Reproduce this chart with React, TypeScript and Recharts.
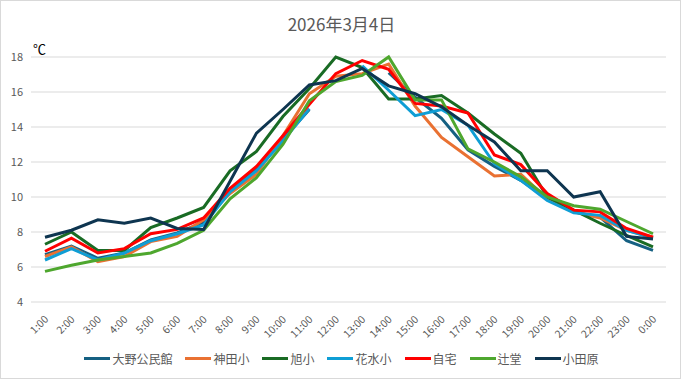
import React from "react";
import { LineChart, Line, XAxis, YAxis, CartesianGrid } from "recharts";

const hours = [
  "1:00", "2:00", "3:00", "4:00", "5:00", "6:00", "7:00", "8:00", "9:00", "10:00", "11:00", "12:00",
  "13:00", "14:00", "15:00", "16:00", "17:00", "18:00", "19:00", "20:00", "21:00", "22:00", "23:00", "0:00",
];

const ono = [6.7, 7.2, 6.5, 6.8, 7.55, 7.95, 8.55, 10.3, 11.6, 13.3, 15.0, null, null, 17.1, 15.7, 14.5, 12.7, 11.75, 10.95, 9.9, 9.15, 8.85, 7.5, 6.95];
const kanda = [6.6, 7.15, 6.3, 6.6, 7.45, 7.75, 8.7, 10.2, 11.3, 13.5, 15.9, 16.9, 17.05, 17.6, 15.2, 13.4, 12.3, 11.2, 11.3, 9.9, 9.15, 8.8, 8.1, 7.7];
const asahi = [7.3, 8.0, 6.95, 6.95, 8.25, 8.8, 9.4, 11.5, 12.6, 14.6, 16.2, 18.0, 17.4, 15.6, 15.6, 15.8, 14.8, 13.6, 12.5, 10.0, 9.25, 8.5, 7.8, 7.15];
const hanamizu = [6.4, 7.05, 6.4, 6.8, 7.5, 7.9, 8.4, 10.3, 11.5, 13.2, 15.05, null, 17.5, 16.1, 14.65, 15.0, 14.1, 11.9, 10.95, 9.8, 9.1, 8.95, 8.1, 7.65];
const jitaku = [6.9, 7.65, 6.8, 7.05, 7.9, 8.15, 8.8, 10.5, 11.75, 13.5, 15.3, 17.05, 17.8, 17.3, 15.35, 15.2, 14.8, 12.4, 11.85, 10.2, 9.25, 9.15, 8.2, 7.7];
const tsujido = [5.75, 6.1, 6.4, 6.6, 6.8, 7.35, 8.1, 9.9, 11.1, 13.0, 15.5, 16.6, 16.95, 18.0, 15.55, 15.55, 12.75, 12.0, 11.15, 10.0, 9.5, 9.3, 8.6, 7.9];
const odawara = [7.7, 8.1, 8.7, 8.5, 8.8, 8.2, 8.15, 10.9, 13.65, 15.0, 16.4, 16.65, 17.35, 16.35, 15.9, 15.15, 14.1, 13.15, 11.5, 11.5, 10.0, 10.3, 7.75, 7.6];

const yTicks = [4, 6, 8, 10, 12, 14, 16, 18];

const series = [
  { key: "ono", name: "大野公民館", color: "#156082", values: ono },
  { key: "kanda", name: "神田小", color: "#e97132", values: kanda },
  { key: "asahi", name: "旭小", color: "#196b24", values: asahi },
  { key: "hanamizu", name: "花水小", color: "#0f9ed5", values: hanamizu },
  { key: "jitaku", name: "自宅", color: "#ff0000", values: jitaku },
  { key: "tsujido", name: "辻堂", color: "#4ea72e", values: tsujido },
  { key: "odawara", name: "小田原", color: "#0e3550", values: odawara },
];

const data = hours.map((h, i) => {
  const row: any = { time: h };
  series.forEach((s) => (row[s.key] = s.values[i]));
  return row;
});

const FONT = '"Noto Sans CJK JP", "Noto Sans", sans-serif';

const HourTick = ({ x, y, payload }: any) => (
  <text
    x={x + 4}
    y={y + 10}
    transform={`rotate(-45 ${x + 4} ${y + 10})`}
    textAnchor="end"
    fontSize={10.5}
    fill="#595959"
    fontFamily={FONT}
  >
    {payload.value}
  </text>
);

export default function App() {
  return (
    <div
      style={{
        position: "absolute",
        left: 0,
        top: 0,
        width: 681,
        height: 379,
        background: "#fff",
        border: "1px solid #d9d9d9",
        boxSizing: "border-box",
        fontFamily: FONT,
      }}
    >
      <div style={{ position: "absolute", left: 0, top: 10, width: 681, textAlign: "center", fontSize: 17, color: "#595959" }}>
        2026年3月4日
      </div>
      <div style={{ position: "absolute", left: 32, top: 38, fontSize: 13, color: "#000" }}>℃</div>
      <div style={{ position: "absolute", left: -1, top: -1 }}>
        <LineChart width={681} height={379} data={data} margin={{ top: 57, right: 15, bottom: 32, left: 0 }}>
          <CartesianGrid vertical={false} stroke="#d9d9d9" />
          <XAxis
            dataKey="time"
            interval={0}
            axisLine={false}
            tickLine={false}
            padding={{ left: 14, right: 13 }}
            height={45}
            tick={<HourTick />}
          />
          <YAxis
            domain={[4, 18]}
            ticks={yTicks}
            width={31}
            axisLine={false}
            tickLine={false}
            tick={{ fontSize: 11, fill: "#595959", fontFamily: FONT }}
          />
          {series.map((s) => (
            <Line
              key={s.key}
              type="linear"
              dataKey={s.key}
              name={s.name}
              stroke={s.color}
              strokeWidth={3}
              dot={false}
              activeDot={false}
              connectNulls={false}
              isAnimationActive={false}
            />
          ))}
        </LineChart>
      </div>
      <div
        style={{
          position: "absolute",
          left: 0,
          top: 349,
          width: 681,
          display: "flex",
          justifyContent: "center",
          gap: 13,
          fontSize: 12,
          color: "#595959",
        }}
      >
        {series.map((s) => (
          <div key={s.key} style={{ display: "flex", alignItems: "center" }}>
            <span style={{ display: "inline-block", width: 26, height: 3, background: s.color, marginRight: 2 }} />
            <span>{s.name}</span>
          </div>
        ))}
      </div>
    </div>
  );
}
